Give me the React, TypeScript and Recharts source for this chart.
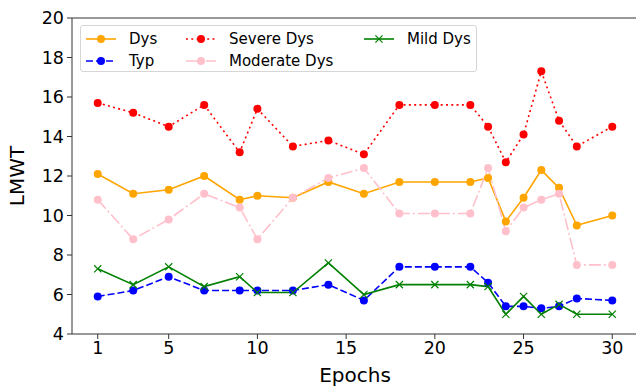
import React from "react";
import {
  LineChart,
  Line,
  XAxis,
  YAxis,
  ReferenceLine,
} from "recharts";

const epochs = [1, 3, 5, 7, 9, 10, 12, 14, 16, 18, 20, 22, 23, 24, 25, 26, 27, 28, 30];
const dys = [12.1, 11.1, 11.3, 12.0, 10.8, 11.0, 10.9, 11.7, 11.1, 11.7, 11.7, 11.7, 11.9, 9.7, 10.9, 12.3, 11.4, 9.5, 10.0];
const typ = [5.9, 6.2, 6.9, 6.2, 6.2, 6.2, 6.2, 6.5, 5.7, 7.4, 7.4, 7.4, 6.6, 5.4, 5.4, 5.3, 5.4, 5.8, 5.7];
const severeDys = [15.7, 15.2, 14.5, 15.6, 13.2, 15.4, 13.5, 13.8, 13.1, 15.6, 15.6, 15.6, 14.5, 12.7, 14.1, 17.3, 14.8, 13.5, 14.5];
const moderateDys = [10.8, 8.8, 9.8, 11.1, 10.4, 8.8, 10.9, 11.9, 12.4, 10.1, 10.1, 10.1, 12.4, 9.2, 10.4, 10.8, 11.1, 7.5, 7.5];
const mildDys = [7.3, 6.5, 7.4, 6.4, 6.9, 6.1, 6.1, 7.6, 6.0, 6.5, 6.5, 6.5, 6.4, 5.0, 5.9, 5.0, 5.5, 5.0, 5.0];

const xTicks = [1, 5, 10, 15, 20, 25, 30];
const yTicks = [4, 6, 8, 10, 12, 14, 16, 18, 20];

const rows = epochs.map((e, i) => ({
  epoch: e,
  dys: dys[i],
  typ: typ[i],
  severe: severeDys[i],
  moderate: moderateDys[i],
  mild: mildDys[i],
}));

type SeriesDef = {
  key: string;
  name: string;
  color: string;
  dash?: string;
  marker: "o" | "x";
};

const series: SeriesDef[] = [
  { key: "dys", name: "Dys", color: "#FFA500", marker: "o" },
  { key: "typ", name: "Typ", color: "#0000FF", dash: "7 3", marker: "o" },
  { key: "severe", name: "Severe Dys", color: "#FF0000", dash: "2 3.3", marker: "o" },
  { key: "moderate", name: "Moderate Dys", color: "#FFC0CB", dash: "12 3 2 3", marker: "o" },
  { key: "mild", name: "Mild Dys", color: "#008000", marker: "x" },
];

const FONT = "'DejaVu Sans', sans-serif";

function CrossDot(props: any) {
  const { cx, cy, stroke } = props;
  if (cx == null || cy == null) return null;
  const s = 3.6;
  return (
    <g stroke={stroke} strokeWidth={1.2}>
      <line x1={cx - s} y1={cy - s} x2={cx + s} y2={cy + s} />
      <line x1={cx - s} y1={cy + s} x2={cx + s} y2={cy - s} />
    </g>
  );
}

function Swatch({ s }: { s: SeriesDef }) {
  return (
    <svg width={32} height={12} style={{ display: "block" }}>
      <line x1={1} y1={6} x2={31} y2={6} stroke={s.color} strokeWidth={1.6} strokeDasharray={s.dash} />
      {s.marker === "o" ? (
        <circle cx={16} cy={6} r={4} fill={s.color} />
      ) : (
        <g stroke={s.color} strokeWidth={1.2}>
          <line x1={12.4} y1={2.4} x2={19.6} y2={9.6} />
          <line x1={12.4} y1={9.6} x2={19.6} y2={2.4} />
        </g>
      )}
    </svg>
  );
}

// legend laid over the plot area, three columns like the figure's ncol=3 legend
function LegendBox() {
  const columns = [[series[0], series[1]], [series[2], series[3]], [series[4]]];
  const colWidths = [100, 178, 110];
  return (
    <div
      style={{
        position: "absolute",
        left: 80,
        top: 25,
        display: "flex",
        border: "1px solid #d6d6d6",
        borderRadius: 3,
        background: "rgba(255,255,255,0.8)",
        padding: "2px 0 2px 4px",
        fontFamily: FONT,
        fontSize: 15,
        color: "#000",
        boxSizing: "border-box",
        width: 397,
        height: 47,
      }}
    >
      {columns.map((col, ci) => (
        <div key={ci} style={{ width: colWidths[ci] }}>
          {col.map((s) => (
            <div key={s.key} style={{ display: "flex", alignItems: "center", height: 21, marginBottom: 1 }}>
              <Swatch s={s} />
              <span style={{ marginLeft: 12, whiteSpace: "nowrap" }}>{s.name}</span>
            </div>
          ))}
        </div>
      ))}
    </div>
  );
}

export default function App() {
  return (
    <div
      style={{
        position: "absolute",
        left: 0,
        top: 0,
        width: 636,
        height: 386,
        overflow: "hidden",
        background: "#fff",
      }}
    >
      <LineChart
        width={645}
        height={386}
        data={rows}
        margin={{ top: 18, right: 7, left: 8, bottom: 0 }}
      >
        <XAxis
          dataKey="epoch"
          type="number"
          domain={[-0.45, 31.45]}
          ticks={xTicks}
          allowDataOverflow
          height={52}
          stroke="#333"
          tickSize={5}
          tickMargin={3}
          tick={{ fill: "#000", fontSize: 17.5, fontFamily: FONT }}
          label={{
            value: "Epochs",
            position: "insideBottom",
            offset: 4,
            fill: "#000",
            fontSize: 20,
            fontFamily: FONT,
          }}
        />
        <YAxis
          type="number"
          domain={[4, 20]}
          ticks={yTicks}
          allowDataOverflow
          width={64}
          stroke="#333"
          tickSize={5}
          tickMargin={3}
          tick={{ fill: "#000", fontSize: 17.5, fontFamily: FONT }}
          label={{
            value: "LMWT",
            angle: -90,
            position: "insideLeft",
            offset: 9,
            fill: "#000",
            fontSize: 20,
            fontFamily: FONT,
            style: { textAnchor: "middle" },
          }}
        />
        <ReferenceLine y={20} stroke="#333" strokeWidth={1} />
        {series.map((s) => (
          <Line
            key={s.key}
            dataKey={s.key}
            name={s.name}
            type="linear"
            stroke={s.color}
            strokeWidth={1.6}
            strokeDasharray={s.dash}
            dot={
              s.marker === "o"
                ? { r: 4, fill: s.color, stroke: s.color, strokeWidth: 0, strokeDasharray: "" }
                : (p: any) => <CrossDot key={`${s.key}-${p.index}`} {...p} stroke={s.color} />
            }
            activeDot={false}
            isAnimationActive={false}
          />
        ))}
      </LineChart>
      <LegendBox />
    </div>
  );
}
